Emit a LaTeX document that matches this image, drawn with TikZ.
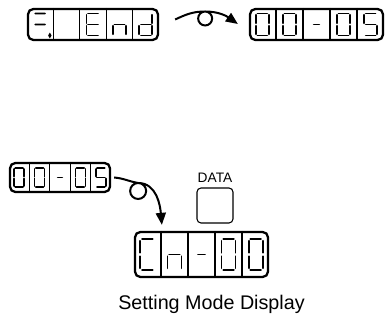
\documentclass[tikz,border=0pt]{standalone}
\usepackage{fontspec}
\setmainfont{Liberation Sans}
\usetikzlibrary{positioning, arrows.meta, calc}

% seven segments, unit cell
\newcommand\sgA{(-.75,1) -- (.75,1)}
\newcommand\sgB{(1,.88) -- (1,.12)}
\newcommand\sgC{(1,-.12) -- (1,-.88)}
\newcommand\sgD{(-.75,-1) -- (.75,-1)}
\newcommand\sgE{(-1,-.12) -- (-1,-.88)}
\newcommand\sgF{(-1,.88) -- (-1,.12)}
\newcommand\sgG{(-.75,0) -- (.75,0)}
\newcommand\sgP{(1.5,-1) circle[radius=.1]}
\newcommand\segglyph[4]{\draw[seg, shift={#1}, xscale=#2, yscale=#3] #4;}
\newcommand\zerosegs{\sgA \sgB \sgC \sgD \sgE \sgF}
\newcommand\fivesegs{\sgA \sgF \sgG \sgC \sgD}

\begin{document}
\begin{tikzpicture}[x=0.75pt, y=0.75pt,
    display/.style={draw, line width=1.7pt, rounded corners=4pt, inner sep=0pt},
    divider/.style={line width=0.9pt},
    seg/.style={line width=1.4pt, line cap=round},
    looparrow/.style={line width=1.5pt, -{Triangle[length=9pt, width=7.5pt]}}]
        \useasboundingbox (0,0) rectangle (390,320);
        % displays
        \node[display, minimum width=97.5pt, minimum height=23.25pt] (fend) at (93,295.5) {};
        \node[display, minimum width=99.75pt, minimum height=23.25pt] (top05) at (316.5,295.5) {};
        \node[display, minimum width=75pt, minimum height=21.75pt] (left05) at (60,142.5) {};
        \node[display, minimum width=99.75pt, minimum height=33.75pt] (cn00) at (201.5,65.5) {};
        \node[draw, line width=0.8pt, rounded corners=3pt, minimum width=27pt, minimum height=26.25pt] (databtn) at (215,114.5) {};
        \node[font=\fontsize{10.3}{12}\selectfont, inner sep=0pt, above=3.5pt of databtn] (datalbl) {DATA};
        \node[font=\fontsize{14.8}{17}\selectfont, inner sep=0pt] (caption) at (211.5,16) {Setting Mode Display};
        % cell dividers
        \foreach \d in {fend,top05,left05,cn00}
          \foreach \f in {0.2,0.4,0.6,0.8}
            \draw[divider] ($(\d.north west)!\f!(\d.north east)$) -- ($(\d.south west)!\f!(\d.south east)$);
        % =. End
        \segglyph{($(fend.west)!0.1!(fend.east)$)}{6.5}{11}{\sgA \sgG \sgP}
        \segglyph{($(fend.west)!0.5!(fend.east)$)}{6.5}{11}{\sgA \sgD \sgE \sgF \sgG}
        \segglyph{($(fend.west)!0.7!(fend.east)$)}{6.5}{11}{\sgC \sgE \sgG}
        \segglyph{($(fend.west)!0.9!(fend.east)$)}{6.5}{11}{\sgB \sgC \sgD \sgE \sgG}
        % 00-05, top
        \segglyph{($(top05.west)!0.1!(top05.east)$)}{6.5}{11}{\zerosegs}
        \segglyph{($(top05.west)!0.3!(top05.east)$)}{6.5}{11}{\zerosegs}
        \segglyph{($(top05.west)!0.5!(top05.east)$)}{3.5}{11}{\sgG}
        \segglyph{($(top05.west)!0.7!(top05.east)$)}{6.5}{11}{\zerosegs}
        \segglyph{($(top05.west)!0.9!(top05.east)$)}{6.5}{11}{\fivesegs}
        % 00-05, left
        \segglyph{($(left05.west)!0.1!(left05.east)$)}{5}{9.5}{\zerosegs}
        \segglyph{($(left05.west)!0.3!(left05.east)$)}{5}{9.5}{\zerosegs}
        \segglyph{($(left05.west)!0.5!(left05.east)$)}{3}{9.5}{\sgG}
        \segglyph{($(left05.west)!0.7!(left05.east)$)}{5}{9.5}{\zerosegs}
        \segglyph{($(left05.west)!0.9!(left05.east)$)}{5}{9.5}{\fivesegs}
        % Cn-00
        \segglyph{($(cn00.west)!0.1!(cn00.east)$)}{7}{15.5}{\sgA \sgD \sgE \sgF}
        \segglyph{($(cn00.west)!0.3!(cn00.east)$)}{7}{15.5}{\sgC \sgE \sgG}
        \segglyph{($(cn00.west)!0.5!(cn00.east)$)}{4.5}{15.5}{\sgG}
        \segglyph{($(cn00.west)!0.7!(cn00.east)$)}{7}{15.5}{\zerosegs}
        \segglyph{($(cn00.west)!0.9!(cn00.east)$)}{7}{15.5}{\zerosegs}
        % looped arrows
        \draw[looparrow] ($(fend.east)+(16,5)$) to[out=25, in=180] ++(30,8)
              arc[start angle=90, end angle=-270, radius=7]
              to[out=0, in=145] ($(top05.west)+(-11,0.5)$);
        \draw[looparrow] ($(left05.east)+(3,0)$) to[out=-5, in=170] ++(24,-5.5)
              arc[start angle=90, end angle=-270, radius=8]
              to[out=0, in=95] ($(cn00.north west)+(28,6)$);
      \end{tikzpicture}
\end{document}
